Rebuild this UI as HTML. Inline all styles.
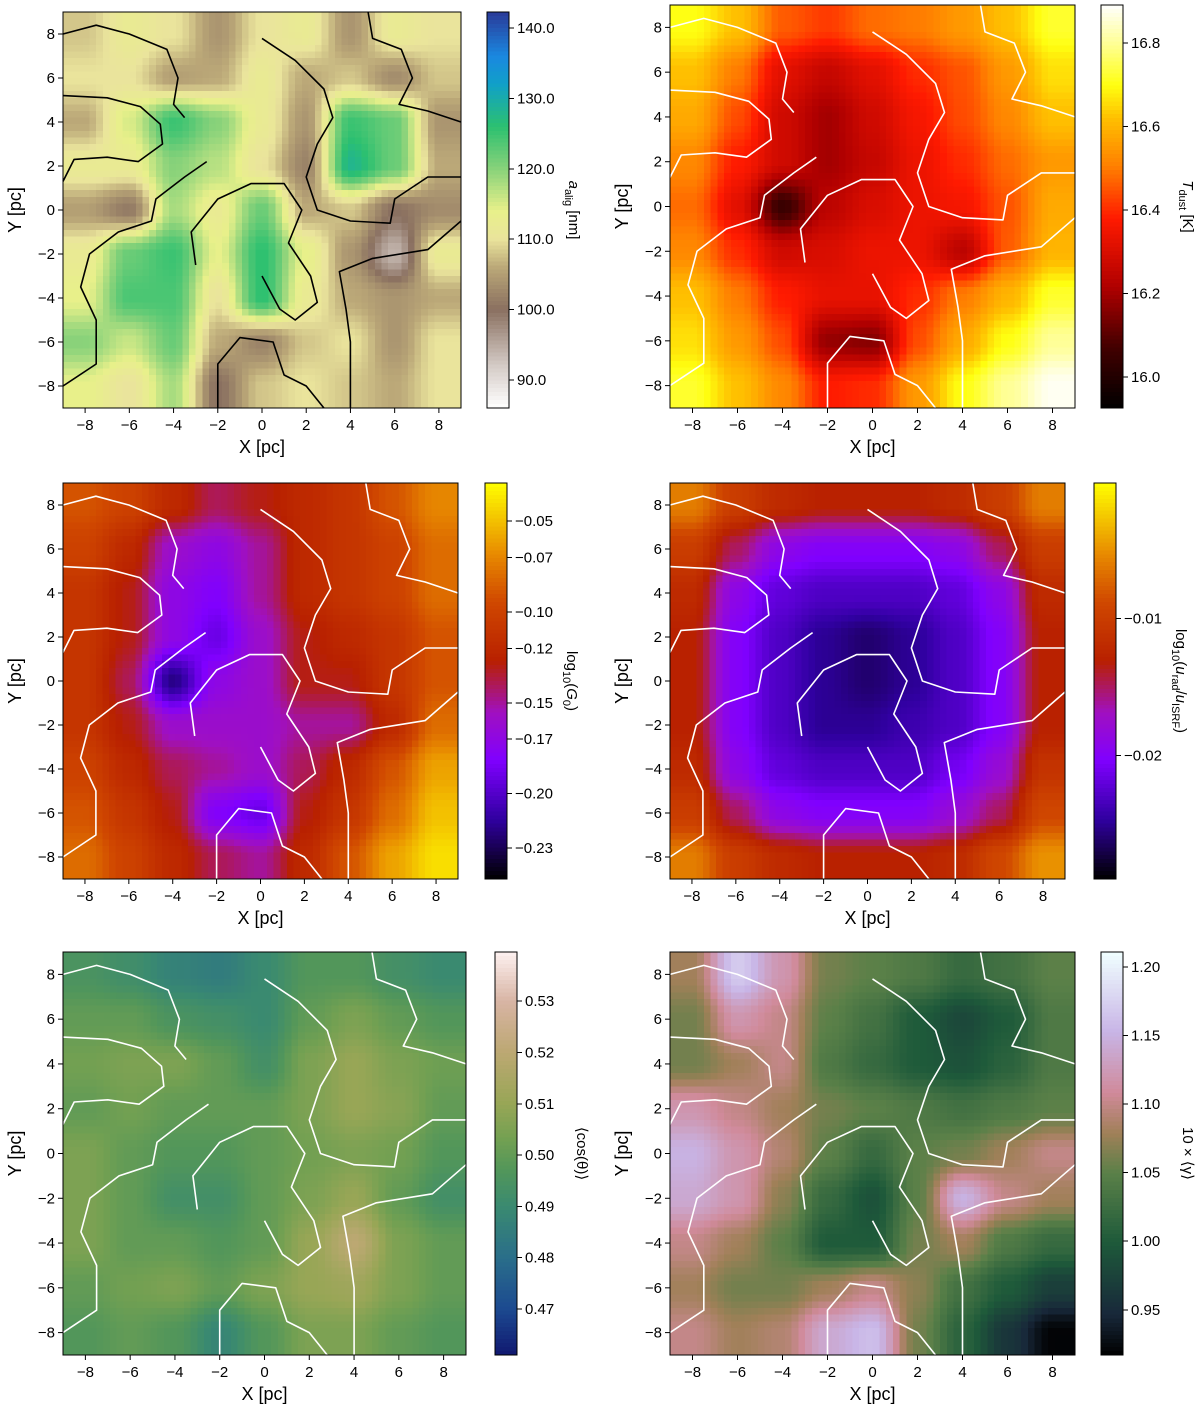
<!DOCTYPE html>
<html><head><meta charset="utf-8"><style>
body{margin:0;background:#fff;}
svg text{font-family:"Liberation Sans","DejaVu Sans",sans-serif;fill:#000;}
</style></head><body>
<svg id="fig" xmlns="http://www.w3.org/2000/svg" width="1200" height="1407" viewBox="0 0 1200 1407"></svg>
<script>
// ---- data (9x9 grids, rows y=8..-8, cols x=-8..8) ----
const gridCoords = [-8,-6,-4,-2,0,2,4,6,8];
const axisTicks = [-8,-6,-4,-2,0,2,4,6,8];
const aligValues = [
[108,112,110,104,110,112,104,112,110],
[110,110,105,106,112,106,108,103,108],
[106,115,125,120,112,104,125,122,104],
[112,112,120,117,110,102,128,122,106],
[105,101,118,112,122,106,108,100,103],
[112,122,125,114,126,114,104,94,112],
[114,124,124,110,126,112,106,104,106],
[120,116,122,106,102,108,110,104,110],
[114,110,118,100,108,110,108,106,110]];
const tdustValues = [
[16.70,16.62,16.46,16.42,16.48,16.50,16.55,16.62,16.72],
[16.62,16.50,16.32,16.26,16.32,16.40,16.45,16.55,16.66],
[16.58,16.44,16.28,16.20,16.28,16.36,16.44,16.52,16.62],
[16.52,16.38,16.28,16.20,16.26,16.34,16.40,16.48,16.55],
[16.48,16.32,16.05,16.24,16.30,16.34,16.36,16.45,16.58],
[16.52,16.40,16.28,16.30,16.34,16.34,16.24,16.46,16.60],
[16.62,16.50,16.38,16.33,16.33,16.40,16.50,16.60,16.72],
[16.66,16.55,16.44,16.18,16.16,16.44,16.58,16.70,16.80],
[16.72,16.62,16.52,16.38,16.40,16.55,16.70,16.80,16.88]];
const g0Values = [
[-0.09,-0.10,-0.12,-0.14,-0.13,-0.12,-0.11,-0.09,-0.07],
[-0.10,-0.12,-0.16,-0.17,-0.15,-0.12,-0.11,-0.10,-0.08],
[-0.11,-0.13,-0.17,-0.18,-0.15,-0.12,-0.11,-0.10,-0.08],
[-0.11,-0.13,-0.17,-0.19,-0.16,-0.13,-0.12,-0.11,-0.09],
[-0.11,-0.14,-0.22,-0.17,-0.16,-0.13,-0.13,-0.11,-0.09],
[-0.11,-0.13,-0.16,-0.16,-0.16,-0.15,-0.15,-0.12,-0.08],
[-0.10,-0.12,-0.14,-0.15,-0.16,-0.14,-0.12,-0.09,-0.06],
[-0.09,-0.11,-0.13,-0.18,-0.19,-0.13,-0.11,-0.08,-0.05],
[-0.08,-0.10,-0.12,-0.14,-0.15,-0.12,-0.09,-0.06,-0.04]];
const uradValues = [
[-0.006,-0.010,-0.012,-0.013,-0.013,-0.013,-0.012,-0.010,-0.006],
[-0.010,-0.015,-0.019,-0.020,-0.020,-0.020,-0.019,-0.015,-0.010],
[-0.012,-0.019,-0.022,-0.023,-0.023,-0.023,-0.022,-0.019,-0.012],
[-0.013,-0.020,-0.023,-0.025,-0.026,-0.025,-0.023,-0.020,-0.013],
[-0.013,-0.020,-0.023,-0.025,-0.026,-0.025,-0.023,-0.020,-0.013],
[-0.013,-0.020,-0.023,-0.025,-0.025,-0.024,-0.023,-0.020,-0.013],
[-0.012,-0.019,-0.022,-0.023,-0.023,-0.023,-0.021,-0.018,-0.011],
[-0.010,-0.015,-0.019,-0.020,-0.020,-0.020,-0.018,-0.015,-0.009],
[-0.006,-0.010,-0.012,-0.013,-0.013,-0.013,-0.012,-0.009,-0.005]];
const cosValues = [
[0.495,0.492,0.487,0.485,0.490,0.497,0.497,0.493,0.490],
[0.500,0.500,0.495,0.493,0.490,0.500,0.505,0.500,0.497],
[0.503,0.505,0.505,0.500,0.493,0.505,0.510,0.505,0.502],
[0.500,0.503,0.500,0.500,0.500,0.505,0.510,0.507,0.500],
[0.505,0.500,0.497,0.497,0.500,0.503,0.505,0.503,0.497],
[0.505,0.500,0.493,0.493,0.500,0.505,0.510,0.500,0.493],
[0.505,0.500,0.500,0.497,0.500,0.510,0.520,0.505,0.500],
[0.500,0.503,0.505,0.500,0.505,0.510,0.512,0.505,0.500],
[0.497,0.500,0.497,0.488,0.497,0.505,0.505,0.500,0.497]];
const gammaValues = [
[1.08,1.17,1.12,1.06,1.05,1.04,1.02,1.03,1.05],
[1.06,1.12,1.10,1.05,1.03,1.00,0.98,1.00,1.04],
[1.06,1.08,1.10,1.04,1.02,1.00,0.99,1.01,1.04],
[1.12,1.10,1.08,1.06,1.05,1.04,1.03,1.04,1.05],
[1.15,1.12,1.09,1.05,1.02,1.05,1.06,1.08,1.10],
[1.14,1.12,1.07,1.02,0.99,1.05,1.15,1.10,1.08],
[1.10,1.08,1.05,1.00,1.00,1.06,1.08,1.04,1.02],
[1.08,1.06,1.06,1.08,1.10,1.07,1.03,1.00,0.97],
[1.10,1.08,1.09,1.14,1.16,1.06,1.01,0.96,0.92]];
// contour polylines in data units [x,y]
const contourA = [[-9,5.2],[-7,5.1],[-5.5,4.7],[-4.6,3.9],[-4.5,3.0],[-5.6,2.2],[-7,2.4],[-8.5,2.3],[-9,1.3]];
const contourB = [[0,7.8],[1.5,6.8],[2.8,5.5],[3.2,4.2],[2.5,3],[2,1.5],[2.5,0],[4,-0.5],[5.8,-0.6],[6,0.5],[7.5,1.5],[9,1.5]];
const contourC = [[9,-0.5],[7.5,-1.8],[5,-2.2],[3.5,-2.8],[3.8,-4.5],[4,-6],[4,-9]];
const contourD = [[-3,-2.5],[-3.2,-1],[-2,0.5],[-0.5,1.2],[1,1.2],[1.8,0],[1.2,-1.5],[2.2,-3],[2.5,-4.2],[1.5,-5],[0.8,-4.5],[0,-3]];
const contourE = [[-9,-8],[-7.5,-7],[-7.5,-5],[-8.2,-3.5],[-7.8,-2],[-6.5,-1],[-5,-0.5],[-4.8,0.5],[-3.5,1.5],[-2.5,2.2]];
const contourF = [[-2,-9],[-2,-7],[-1,-5.8],[0.5,-6],[1,-7.5],[2,-8],[2.8,-9]];
const contourG = [[-9,8],[-7.5,8.4],[-6,8],[-4.3,7.3],[-3.8,6],[-4,4.8],[-3.5,4.2]];
const contourH = [[4.8,9],[5,7.8],[6.3,7.3],[6.8,6],[6.2,4.8],[7.5,4.5],[9,4]];
const contours = [contourA,contourB,contourC,contourD,contourE,contourF,contourG,contourH];

const cmTerrain = [[86,'#ffffff'],[92,'#d4cbc6'],[100,'#8a7060'],[106,'#bba878'],[110,'#eae49c'],[114,'#e8f08a'],[120,'#88d27a'],[126,'#2cc070'],[132,'#10a0c8'],[136,'#1a88e0'],[142.3,'#2a3a98']];
const cmHot = [[0,'#000000'],[0.15,'#420000'],[0.3,'#b00000'],[0.47,'#ff1a00'],[0.6,'#ff8000'],[0.72,'#ffc000'],[0.8,'#ffff10'],[0.9,'#ffff90'],[1,'#ffffff']];
const cmGnuplot = [[0,'#000000'],[0.15,'#3000a0'],[0.3,'#8000ff'],[0.42,'#a010c0'],[0.55,'#b82000'],[0.7,'#d04800'],[0.82,'#e88a00'],[1,'#ffff00']];
const cmEarth = [[0.461,'#101870'],[0.47,'#1c4a90'],[0.48,'#2a6e8a'],[0.49,'#3a8a70'],[0.497,'#52965a'],[0.503,'#72a052'],[0.51,'#98a656'],[0.52,'#bca872'],[0.53,'#d8b4a4'],[0.54,'#fff4f4']];
const cmCube = [[0,'#000000'],[0.1,'#18283a'],[0.28,'#1e5a3a'],[0.45,'#5a8048'],[0.55,'#a08058'],[0.65,'#d08a9a'],[0.8,'#c8b4e6'],[1,'#f0ffff']];

const NS='http://www.w3.org/2000/svg';
const fig=document.getElementById('fig');
function el(tag,attrs,parent){const e=document.createElementNS(NS,tag);for(const k in attrs)e.setAttribute(k,attrs[k]);(parent||fig).appendChild(e);return e;}
function hex(c){return [parseInt(c.slice(1,3),16),parseInt(c.slice(3,5),16),parseInt(c.slice(5,7),16)];}
function cmap(stops,v){
  if(v<=stops[0][0])return stops[0][1];
  for(let i=1;i<stops.length;i++){if(v<=stops[i][0]){const t=(v-stops[i-1][0])/(stops[i][0]-stops[i-1][0]);const a=hex(stops[i-1][1]),b=hex(stops[i][1]);return 'rgb('+a.map((x,j)=>Math.round(x+(b[j]-x)*t)).join(',')+')';}}
  return stops[stops.length-1][1];
}
function interp(grid,x,y){
  let fx=(x+8)/2, fy=(8-y)/2;
  fx=Math.max(0,Math.min(8,fx)); fy=Math.max(0,Math.min(8,fy));
  const i0=Math.min(7,Math.floor(fx)), j0=Math.min(7,Math.floor(fy));
  let tx=fx-i0, ty=fy-j0;
  tx=tx*tx*(3-2*tx); ty=ty*ty*(3-2*ty);
  const a=grid[j0][i0],b=grid[j0][i0+1],c=grid[j0+1][i0],d=grid[j0+1][i0+1];
  return (a*(1-tx)+b*tx)*(1-ty)+(c*(1-tx)+d*tx)*ty;
}
function panel(p){
  const g=el('g',{});
  
  
  const sx=v=>p.x0+(v+9)/18*(p.x1-p.x0);
  const sy=v=>p.y1-(v+9)/18*(p.y1-p.y0);
  const norm=v=>p.frac?(v-p.vmin)/(p.vmax-p.vmin):v;
  const N=60, step=18/N;
  const hm=el('g',{'shape-rendering':'crispEdges'},g);
  
  
  for(let j=0;j<N;j++)for(let i=0;i<N;i++){
    const xa=-9+i*step, ya=9-j*step;
    const v=interp(p.data,xa+step/2,ya-step/2);
    const r=el('rect',{x:sx(xa).toFixed(2),y:sy(ya).toFixed(2),width:(sx(xa+step)-sx(xa)+0.6).toFixed(2),height:(sy(ya-step)-sy(ya)+0.6).toFixed(2),fill:cmap(p.cm,norm(v))},hm);
    
    
  }
  contours.forEach(c=>{
    const pl=el('polyline',{points:c.map(q=>sx(q[0]).toFixed(1)+','+sy(q[1]).toFixed(1)).join(' '),fill:'none',stroke:p.lc,'stroke-width':1.6,'stroke-linejoin':'round'},g);
    
    
  });
  const fr=el('rect',{x:p.x0,y:p.y0,width:p.x1-p.x0,height:p.y1-p.y0,fill:'none',stroke:'#000','stroke-width':1},g);
  
  
  axisTicks.forEach(t=>{
    el('line',{x1:sx(t),x2:sx(t),y1:p.y1,y2:p.y1+5,stroke:'#000'},g);
    const tx=el('text',{x:sx(t),y:p.y1+22,'font-size':15,'text-anchor':'middle'},g);
    tx.textContent=(t<0?'\u2212':'')+Math.abs(t);
    
    
    el('line',{x1:p.x0-5,x2:p.x0,y1:sy(t),y2:sy(t),stroke:'#000'},g);
    const ty=el('text',{x:p.x0-8,y:sy(t)+5,'font-size':15,'text-anchor':'end'},g);
    ty.textContent=(t<0?'\u2212':'')+Math.abs(t);
    
    
  });
  const xl=el('text',{x:(p.x0+p.x1)/2,y:p.y1+45,'font-size':18,'text-anchor':'middle'},g);
  xl.textContent='X [pc]';
  
  
  const yl=el('text',{x:0,y:0,'font-size':18,'text-anchor':'middle',transform:`translate(${p.x0-42},${(p.y0+p.y1)/2}) rotate(-90)`},g);
  yl.textContent='Y [pc]';
  
  
  const cb=el('g',{'shape-rendering':'crispEdges'},g);
  
  
  const H=p.y1-p.y0, M=100;
  const cv=y=>p.vmin+(p.vmax-p.vmin)*(p.y1-y)/H;
  for(let k=0;k<M;k++){
    const ya=p.y0+k*H/M;
    el('rect',{x:p.cx,y:ya,width:22,height:H/M+0.7,fill:cmap(p.cm,norm(cv(ya+H/M/2)))},cb);
  }
  el('rect',{x:p.cx,y:p.y0,width:22,height:H,fill:'none',stroke:'#000'},cb);
  p.ticks.forEach((t,i)=>{
    const y=p.y1-(t-p.vmin)/(p.vmax-p.vmin)*H;
    el('line',{x1:p.cx+22,x2:p.cx+27,y1:y,y2:y,stroke:'#000'},cb);
    const tl=el('text',{x:p.cx+30,y:y+5,'font-size':15},cb);
    tl.textContent=p.tickLabels[i];
    
    
  });
  const lab=el('text',{x:0,y:0,'font-size':15,'text-anchor':'middle',transform:`translate(${p.cx+82},${(p.y0+p.y1)/2}) rotate(90)`},g);
  lab.innerHTML=p.label;
  
  
}
const aligTicks=[90,100,110,120,130,140], aligTickLabels=['90.0','100.0','110.0','120.0','130.0','140.0'];
const tdustTicks=[16.0,16.2,16.4,16.6,16.8], tdustTickLabels=['16.0','16.2','16.4','16.6','16.8'];
const g0Ticks=[-0.23,-0.20,-0.17,-0.15,-0.12,-0.10,-0.07,-0.05], g0TickLabels=['\u22120.23','\u22120.20','\u22120.17','\u22120.15','\u22120.12','\u22120.10','\u22120.07','\u22120.05'];
const uradTicks=[-0.02,-0.01], uradTickLabels=['\u22120.02','\u22120.01'];
const cosTicks=[0.47,0.48,0.49,0.50,0.51,0.52,0.53], cosTickLabels=['0.47','0.48','0.49','0.50','0.51','0.52','0.53'];
const gammaTicks=[0.95,1.00,1.05,1.10,1.15,1.20], gammaTickLabels=['0.95','1.00','1.05','1.10','1.15','1.20'];

panel({name:'panel-a-alig',x0:63,x1:461,y0:12,y1:408,cx:487,data:aligValues,cm:cmTerrain,frac:false,vmin:86,vmax:142.3,lc:'#000',ticks:aligTicks,tickLabels:aligTickLabels,label:'<tspan font-style="italic">a</tspan><tspan font-size="11" dy="4">alig</tspan><tspan dy="-4"> [nm]</tspan>'});
panel({name:'panel-t-dust',x0:670,x1:1075,y0:5,y1:408,cx:1101,data:tdustValues,cm:cmHot,frac:true,vmin:15.926,vmax:16.891,lc:'#fff',ticks:tdustTicks,tickLabels:tdustTickLabels,label:'<tspan font-style="italic">T</tspan><tspan font-size="11" dy="4">dust</tspan><tspan dy="-4"> [K]</tspan>'});
panel({name:'panel-g0',x0:63,x1:458,y0:483,y1:879,cx:485,data:g0Values,cm:cmGnuplot,frac:true,vmin:-0.247,vmax:-0.029,lc:'#fff',ticks:g0Ticks,tickLabels:g0TickLabels,label:'log<tspan font-size="11" dy="4">10</tspan><tspan dy="-4">(</tspan><tspan font-style="italic">G</tspan><tspan font-size="11" dy="4">0</tspan><tspan dy="-4">)</tspan>'});
panel({name:'panel-u-rad',x0:670,x1:1065,y0:483,y1:879,cx:1094,data:uradValues,cm:cmGnuplot,frac:true,vmin:-0.029,vmax:-0.0001,lc:'#fff',ticks:uradTicks,tickLabels:uradTickLabels,label:'log<tspan font-size="11" dy="4">10</tspan><tspan dy="-4">(</tspan><tspan font-style="italic">u</tspan><tspan font-size="11" dy="4">rad</tspan><tspan dy="-4">/</tspan><tspan font-style="italic">u</tspan><tspan font-size="11" dy="4">ISRF</tspan><tspan dy="-4">)</tspan>'});
panel({name:'panel-cos-theta',x0:63,x1:466,y0:952,y1:1355,cx:495,data:cosValues,cm:cmEarth,frac:false,vmin:0.461,vmax:0.5396,lc:'#fff',ticks:cosTicks,tickLabels:cosTickLabels,label:'\u27E8cos(\u03B8)\u27E9'});
panel({name:'panel-gamma',x0:670,x1:1075,y0:952,y1:1355,cx:1101,data:gammaValues,cm:cmCube,frac:true,vmin:0.917,vmax:1.211,lc:'#fff',ticks:gammaTicks,tickLabels:gammaTickLabels,label:'10 \u00D7 \u27E8\u03B3\u27E9'});
</script>
</body></html>
